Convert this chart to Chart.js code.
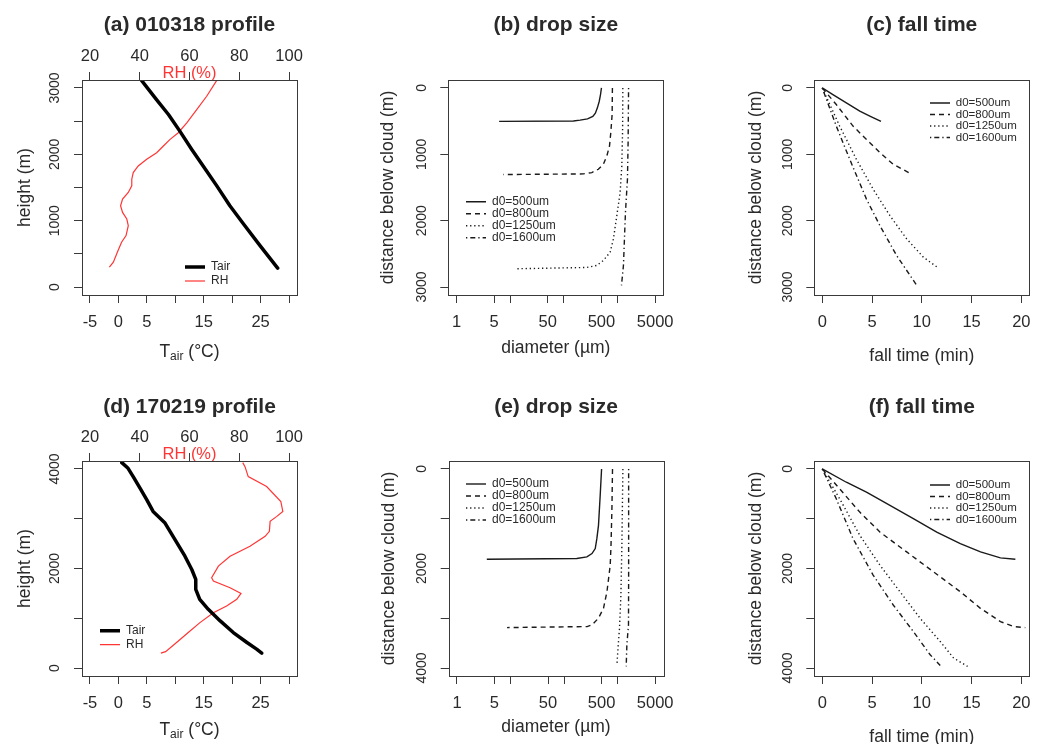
<!DOCTYPE html>
<html>
<head>
<meta charset="utf-8">
<script src="https://cdn.jsdelivr.net/npm/chart.js@4.4.1/dist/chart.umd.min.js"></script>
<style>
  html, body { margin: 0; padding: 0; background: #fff; }
  #wrap { position: relative; width: 1046px; height: 744px; overflow: hidden; background: #fff; }
  #wrap canvas { position: absolute; }
</style>
</head>
<body>
<div id="wrap">
  <canvas id="pa"></canvas>
  <canvas id="pb"></canvas>
  <canvas id="pc"></canvas>
  <canvas id="pd"></canvas>
  <canvas id="pe"></canvas>
  <canvas id="pf"></canvas>
</div>
<script>
// ---------- data ----------
// (a) 010318 profile
const aTairHeight = [285, 624, 950, 1224, 1524, 1824, 2074, 2349, 2600, 2824, 3110];
const aTair = [28.0, 24.9, 22.0, 19.6, 17.3, 14.9, 12.9, 10.8, 8.8, 6.7, 4.1];
const aRHHeight = [300, 375, 525, 675, 775, 925, 1025, 1125, 1225, 1325, 1425, 1525, 1625, 1725,
                   1825, 1925, 2025, 2125, 2225, 2325, 2475, 2675, 2875, 3110];
const aRH = [27.8, 29.4, 31.0, 32.7, 34.5, 35.4, 34.8, 33.1, 32.3, 33.1, 35.4, 36.8, 36.8, 37.4,
             39.4, 42.8, 46.8, 49.5, 52.2, 55.5, 58.9, 62.9, 66.9, 70.9];

// (d) 170219 profile
const dTairHeight = [300, 380, 513, 713, 947, 1180, 1380, 1580, 1780, 1980, 2247, 2580, 2913,
                     3147, 3380, 3613, 3847, 4013, 4127];
const dTair = [25.2, 24.3, 22.6, 20.2, 17.9, 15.8, 14.3, 13.6, 13.6, 12.9, 11.7, 9.95, 8.2,
               6.1, 5.0, 3.8, 2.6, 1.7, 0.6];
const dRHHeight = [300, 330, 513, 713, 913, 1113, 1247, 1380, 1500, 1613, 1747, 1813, 2047, 2247,
                   2447, 2647, 2747, 2947, 3047, 3147, 3347, 3647, 3847, 4047, 4127];
const dRH = [48.5, 50.4, 54.8, 59.5, 64.2, 69.6, 74.9, 79.0, 80.7, 76.3, 69.6, 68.9, 71.6, 76.3,
             84.3, 90.4, 92.1, 92.4, 95.1, 97.5, 96.7, 91.0, 83.6, 82.3, 81.4];

// (b) drop size, case 1 : diameter (um) vs distance below cloud (m)
const bDist500 = [0, 100, 200, 300, 380, 430, 465, 485, 498, 503];
const bDiam500 = [500, 480, 455, 420, 385, 345, 275, 200, 150, 6.2];
const bDist800 = [0, 400, 675, 875, 1025, 1150, 1225, 1275, 1295, 1305];
const bDiam800 = [800, 790, 746, 706, 630, 543, 437, 331, 230, 7.4];
const bDist1250 = [0, 600, 1175, 1575, 1925, 2275, 2475, 2600, 2675, 2705, 2725];
const bDiam1250 = [1250, 1240, 1197, 1114, 966, 835, 725, 543, 407, 266, 12.2];
const bDist1600 = [0, 800, 1375, 1875, 2675, 2975];
const bDiam1600 = [1600, 1570, 1525, 1400, 1284, 1180];

// (c) fall time, case 1 : time (min) vs distance below cloud (m)
const cDist500 = [0, 100, 225, 350, 425, 505];
const cTime500 = [0, 1.07, 2.42, 3.77, 4.78, 5.9];
const cDist800 = [0, 250, 575, 825, 975, 1150, 1300];
const cTime800 = [0, 1.41, 3.09, 4.78, 5.79, 7.13, 8.99];
const cDist1250 = [0, 575, 1075, 1525, 1925, 2275, 2550, 2715];
const cTime1250 = [0, 1.75, 3.43, 5.11, 6.80, 8.48, 10.16, 11.68];
const cDist1600 = [0, 575, 1075, 1675, 2075, 2525, 2825, 2975];
const cTime1600 = [0, 1.41, 2.76, 4.44, 5.79, 7.47, 8.82, 9.49];

// (e) drop size, case 2
const eDist500 = [0, 533, 1133, 1400, 1600, 1700, 1767, 1800, 1813];
const eDiam500 = [500, 471, 438, 408, 381, 331, 266, 172, 3.6];
const eDist800 = [0, 800, 1533, 1933, 2467, 2800, 3000, 3133, 3167, 3187];
const eDiam800 = [800, 780, 750, 725, 630, 543, 437, 331, 269, 8.6];
const eDist1250 = [0, 1533, 2533, 3200, 3467, 3933];
const eDiam1250 = [1250, 1197, 1148, 1081, 1035, 966];
const eDist1600 = [0, 2200, 3133, 3533, 3967];
const eDiam1600 = [1600, 1600, 1590, 1483, 1441];

// (f) fall time, case 2
const fDist500 = [0, 267, 467, 733, 1000, 1267, 1500, 1667, 1787, 1813];
const fTime500 = [0, 2.42, 4.44, 6.8, 9.15, 11.5, 13.87, 15.9, 17.9, 19.4];
const fDist800 = [0, 400, 867, 1267, 1667, 2067, 2467, 2800, 3067, 3167, 3187];
const fTime800 = [0, 1.75, 3.77, 5.79, 8.48, 11.17, 13.87, 15.89, 17.9, 19.25, 20.4];
const fDist1250 = [0, 600, 1333, 1933, 2467, 3000, 3467, 3800, 3967];
const fTime1250 = [0, 1.75, 3.77, 5.79, 7.81, 9.83, 11.85, 13.2, 14.6];
const fDist1600 = [0, 600, 1400, 2133, 2733, 3267, 3733, 3947];
const fTime1600 = [0, 1.41, 3.09, 5.11, 7.13, 9.15, 10.84, 11.85];

// ticks and labels
const tempTicks = [-5, 0, 5, 10, 15, 20, 25, 30];
const tempLabels = [-5, 0, 5, 15, 25];
const rhTicks = [20, 40, 60, 80, 100];
const heightTicksA = [0, 500, 1000, 1500, 2000, 2500, 3000];
const heightLabelsA = [0, 1000, 2000, 3000];
const heightTicksD = [0, 1000, 2000, 3000, 4000];
const heightLabelsD = [0, 2000, 4000];
const diamTicks = [1, 5, 10, 50, 100, 500, 1000, 5000];
const diamLabels = [1, 5, 50, 500, 5000];
const distTicks1 = [0, 1000, 2000, 3000];
const distTicks2 = [0, 1000, 2000, 3000, 4000];
const distLabels2 = [0, 2000, 4000];
const timeTicks = [0, 5, 10, 15, 20];
const dropNames = ['d0=500um', 'd0=800um', 'd0=1250um', 'd0=1600um'];

// ---------- styling ----------
const FONT = "'Liberation Sans', Arial, Helvetica, sans-serif";
const INK = '#2a2a2a';
const EDGE = '#3a3a3a';
const RED = '#ff3535';
const LINE = '#1a1a1a';
const dropDash = [[], [5, 4], [1.3, 2.8], [1.3, 3, 5, 3]];
const LEFT_W = 75, BOTTOM_H = 80, TOP_H = 40, TITLE_SIZE = 21;

const pts = (xs, ys) => xs.map((x, i) => ({ x, y: ys[i] }));

// plot frame (R box())
const framePlugin = {
  id: 'frame',
  afterDatasetsDraw(chart) {
    const { ctx, chartArea: a } = chart;
    ctx.save();
    ctx.strokeStyle = EDGE;
    ctx.lineWidth = 1;
    ctx.strokeRect(Math.round(a.left) + 0.5, Math.round(a.top) + 0.5,
                   Math.round(a.right - a.left), Math.round(a.bottom - a.top));
    ctx.restore();
  }
};

// put the legend inside the plot, like R's legend(x, y, ...)
const legendPlacer = {
  id: 'legendPlacer',
  afterLayout(chart, args, opts) {
    const lg = chart.legend;
    if (!lg || opts.left === undefined) return;
    lg.left = opts.left; lg.top = opts.top;
    lg.right = opts.left + 200; lg.bottom = opts.top + 100;
    lg.width = 200; lg.height = 100;
  }
};

// x title with subscript: T_air (°C)
const subscriptTitle = {
  id: 'subscriptTitle',
  afterDraw(chart, args, opts) {
    if (!opts.main) return;
    const { ctx, chartArea: a } = chart;
    const big = `17.5px ${FONT}`, small = `12px ${FONT}`;
    ctx.save();
    ctx.fillStyle = INK;
    ctx.textBaseline = 'middle';
    ctx.textAlign = 'left';
    ctx.font = big;
    const w1 = ctx.measureText(opts.main).width, w3 = ctx.measureText(opts.rest).width;
    ctx.font = small;
    const w2 = ctx.measureText(opts.sub).width;
    let x = (a.left + a.right) / 2 - (w1 + w2 + w3) / 2;
    ctx.font = big; ctx.fillText(opts.main, x, opts.y); x += w1;
    ctx.font = small; ctx.fillText(opts.sub, x, opts.y + 5); x += w2;
    ctx.font = big; ctx.fillText(opts.rest, x, opts.y);
    ctx.restore();
  }
};

function lineLegendLabels(chart) {
  const items = Chart.defaults.plugins.legend.labels.generateLabels(chart);
  items.forEach(it => {
    const ds = chart.data.datasets[it.datasetIndex];
    it.pointStyle = 'line';
    it.lineWidth = ds.borderWidth;
    it.strokeStyle = ds.borderColor;
    it.fillStyle = ds.borderColor;
    it.lineDash = ds.borderDash || [];
    it.lineCap = 'butt';
  });
  return items;
}

const fixedTicks = values => scale => { scale.ticks = values.map(v => ({ value: v })); };
const tickGrid = { display: true, drawOnChartArea: false, drawTicks: true, tickLength: 8, tickColor: EDGE, tickWidth: 1 };

function bottomAxis(o) {
  return {
    type: o.type || 'linear', position: 'bottom', min: o.min, max: o.max, bounds: 'data',
    afterBuildTicks: fixedTicks(o.ticks),
    afterFit: s => { s.height = BOTTOM_H; },
    grid: tickGrid, border: { display: false },
    ticks: { autoSkip: false, minRotation: 0, maxRotation: 0, padding: 10, color: INK,
             font: { family: FONT, size: 16.5 },
             callback: v => (o.labels || o.ticks).includes(v) ? String(v) : '' },
    title: { display: !!o.title, text: o.title, color: INK, font: { family: FONT, size: 17.5 },
             padding: { top: 0, bottom: o.titlePad || 0 } }
  };
}

function leftAxis(o) {
  return {
    type: 'linear', position: 'left', reverse: !!o.reverse, min: o.min, max: o.max, bounds: 'data',
    afterBuildTicks: fixedTicks(o.ticks),
    afterFit: s => { s.width = LEFT_W; },
    grid: tickGrid, border: { display: false },
    ticks: { autoSkip: false, minRotation: 90, maxRotation: 90, crossAlign: 'center', padding: 3,
             color: INK, font: { family: FONT, size: 14 },
             callback: v => (o.labels || o.ticks).includes(v) ? String(v) : '' },
    title: { display: true, text: o.title, color: INK, font: { family: FONT, size: 17.5 },
             padding: { top: o.titlePad, bottom: 0 } }
  };
}

function rhAxis() {
  return {
    type: 'linear', position: 'top', min: 16.8, max: 103.2, bounds: 'data',
    afterBuildTicks: fixedTicks(rhTicks),
    afterFit: s => { s.height = TOP_H; },
    grid: tickGrid, border: { display: false },
    ticks: { autoSkip: false, minRotation: 0, maxRotation: 0, padding: 5.5, color: INK,
             font: { family: FONT, size: 16.5 } },
    title: { display: true, text: 'RH (%)', color: RED, font: { family: FONT, size: 16.5 },
             padding: { top: 23.5, bottom: 0 } }
  };
}

function profileSets(tH, t, rH, rh) {
  return [
    { label: 'Tair', data: pts(t, tH), showLine: true, borderColor: '#000', borderWidth: 3.5,
      borderCapStyle: 'round', borderJoinStyle: 'round', pointRadius: 0, xAxisID: 'x', yAxisID: 'y' },
    { label: 'RH', data: pts(rh, rH), showLine: true, borderColor: RED, borderWidth: 1.2,
      pointRadius: 0, xAxisID: 'x2', yAxisID: 'y' }
  ];
}

function dropSets(xsList, ysList) {
  return dropNames.map((name, i) => ({
    label: name, data: pts(xsList[i], ysList[i]), showLine: true, borderColor: LINE,
    borderWidth: 1.4, borderDash: dropDash[i], pointRadius: 0, xAxisID: 'x', yAxisID: 'y'
  }));
}

function makePanel(id, geo, cfg) {
  const canvas = document.getElementById(id);
  const [cx, cy, cw, ch] = geo.canvas;
  canvas.width = cw; canvas.height = ch;
  canvas.style.left = cx + 'px'; canvas.style.top = cy + 'px';
  const l = geo.box[0] - cx, t = geo.box[1] - cy, r = geo.box[2] - cx, b = geo.box[3] - cy;
  const titleLH = TITLE_SIZE * 1.2;
  const pt = geo.titleY - cy - titleLH / 2;
  const pb = t - (cfg.scales.x2 ? TOP_H : 0) - titleLH - pt;
  return new Chart(canvas, {
    type: 'scatter',
    data: { datasets: cfg.datasets },
    plugins: [framePlugin, legendPlacer, subscriptTitle],
    options: {
      responsive: false, animation: false, devicePixelRatio: 1,
      layout: { padding: { left: l - LEFT_W, right: cw - r, top: 0, bottom: ch - b - BOTTOM_H } },
      plugins: {
        title: { display: true, text: cfg.title, fullSize: false, color: INK,
                 font: { family: FONT, size: TITLE_SIZE, weight: 'bold' },
                 padding: { top: pt, bottom: pb } },
        legend: { display: true, position: 'chartArea', fullSize: false, align: 'start',
                  labels: { usePointStyle: true, pointStyle: 'line', pointStyleWidth: 20,
                            padding: geo.legendGap, color: INK,
                            font: { family: FONT, size: geo.legendSize },
                            generateLabels: lineLegendLabels } },
        tooltip: { enabled: false },
        legendPlacer: { left: geo.legend[0] - cx, top: geo.legend[1] - cy },
        subscriptTitle: cfg.subTitle ? { main: 'T', sub: 'air', rest: ' (\u00B0C)', y: cfg.subTitle - cy } : {}
      },
      scales: cfg.scales
    }
  });
}

// ---------- panels ----------
makePanel('pa', { canvas: [0, 0, 345, 400], box: [82, 80, 297, 295], titleY: 25,
                  legend: [183, 259], legendSize: 12, legendGap: 2 }, {
  title: '(a) 010318 profile',
  datasets: profileSets(aTairHeight, aTair, aRHHeight, aRH),
  subTitle: 352,
  scales: {
    x: bottomAxis({ min: -6.4, max: 31.4, ticks: tempTicks, labels: tempLabels }),
    x2: rhAxis(),
    y: leftAxis({ min: -120, max: 3120, ticks: heightTicksA, labels: heightLabelsA, title: 'height (m)', titlePad: 7.5 })
  }
});

makePanel('pb', { canvas: [345, 0, 345, 400], box: [448.3, 80, 663.3, 295], titleY: 25,
                  legend: [466, 195.7], legendSize: 12, legendGap: 0 }, {
  title: '(b) drop size',
  datasets: dropSets([bDiam500, bDiam800, bDiam1250, bDiam1600], [bDist500, bDist800, bDist1250, bDist1600]),
  scales: {
    x: bottomAxis({ type: 'logarithmic', min: 0.7, max: 7100, ticks: diamTicks, labels: diamLabels,
                    title: 'diameter (\u00B5m)', titlePad: 16.5 }),
    y: leftAxis({ reverse: true, min: -120, max: 3120, ticks: distTicks1, title: 'distance below cloud (m)', titlePad: 4.7 })
  }
});

makePanel('pc', { canvas: [690, 0, 356, 400], box: [814.3, 80, 1029.3, 295], titleY: 25,
                  legend: [930, 97.3], legendSize: 11.5, legendGap: 0 }, {
  title: '(c) fall time',
  datasets: dropSets([cTime500, cTime800, cTime1250, cTime1600], [cDist500, cDist800, cDist1250, cDist1600]),
  scales: {
    x: bottomAxis({ min: -0.8, max: 20.8, ticks: timeTicks, title: 'fall time (min)', titlePad: 8.5 }),
    y: leftAxis({ reverse: true, min: -120, max: 3120, ticks: distTicks1, title: 'distance below cloud (m)', titlePad: 6 })
  }
});

makePanel('pd', { canvas: [0, 372, 345, 400], box: [82, 461, 297, 676], titleY: 407,
                  legend: [98, 622.7], legendSize: 12, legendGap: 2 }, {
  title: '(d) 170219 profile',
  datasets: profileSets(dTairHeight, dTair, dRHHeight, dRH),
  subTitle: 730,
  scales: {
    x: bottomAxis({ min: -6.4, max: 31.4, ticks: tempTicks, labels: tempLabels }),
    x2: rhAxis(),
    y: leftAxis({ min: -160, max: 4160, ticks: heightTicksD, labels: heightLabelsD, title: 'height (m)', titlePad: 7.5 })
  }
});

makePanel('pe', { canvas: [345, 372, 345, 400], box: [448.7, 461, 663.3, 676], titleY: 407,
                  legend: [466, 478], legendSize: 12, legendGap: 0 }, {
  title: '(e) drop size',
  datasets: dropSets([eDiam500, eDiam800, eDiam1250, eDiam1600], [eDist500, eDist800, eDist1250, eDist1600]),
  scales: {
    x: bottomAxis({ type: 'logarithmic', min: 0.7, max: 7100, ticks: diamTicks, labels: diamLabels,
                    title: 'diameter (\u00B5m)', titlePad: 18.5 }),
    y: leftAxis({ reverse: true, min: -160, max: 4160, ticks: distTicks2, labels: distLabels2, title: 'distance below cloud (m)', titlePad: 4.7 })
  }
});

makePanel('pf', { canvas: [690, 372, 356, 400], box: [814.3, 461, 1029.3, 676], titleY: 407,
                  legend: [930, 479.3], legendSize: 11.5, legendGap: 0 }, {
  title: '(f) fall time',
  datasets: dropSets([fTime500, fTime800, fTime1250, fTime1600], [fDist500, fDist800, fDist1250, fDist1600]),
  scales: {
    x: bottomAxis({ min: -0.8, max: 20.8, ticks: timeTicks, title: 'fall time (min)', titlePad: 8.5 }),
    y: leftAxis({ reverse: true, min: -160, max: 4160, ticks: distTicks2, labels: distLabels2, title: 'distance below cloud (m)', titlePad: 6 })
  }
});
</script>
</body>
</html>
